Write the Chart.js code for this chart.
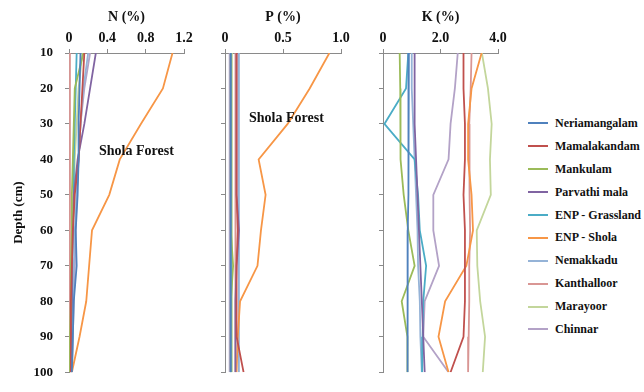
<!DOCTYPE html>
<html>
<head>
<meta charset="utf-8">
<script src="https://cdn.jsdelivr.net/npm/chart.js@4.4.1/dist/chart.umd.min.js"></script>
<style>
    body { margin: 0; background: #fff; width: 644px; height: 392px; overflow: hidden; position: relative; font-family: "Liberation Serif", serif; }
    canvas { position: absolute; top: 0; }
    .note { position: absolute; font-weight: bold; font-size: 14px; color: #111; white-space: nowrap; }
    #legend { position: absolute; left: 528px; top: 112px; width: 116px; }
    .item { height: 22.9px; display: flex; align-items: center; font-weight: bold; font-size: 12px; color: #111; white-space: nowrap; }
    .swatch { flex: none; width: 20px; height: 2px; margin-right: 7px; }
</style>
</head>
<body>
<canvas id="nChart" style="left:0px" width="200" height="392"></canvas>
<canvas id="pChart" style="left:200px" width="155" height="392"></canvas>
<canvas id="kChart" style="left:355px" width="160" height="392"></canvas>
<div class="note" style="left:99px; top:143px;">Shola Forest</div>
<div class="note" style="left:249px; top:110px;">Shola Forest</div>
<div id="legend"></div>

<script>
const depths = [10, 20, 30, 40, 50, 60, 70, 80, 90, 100];
const sites = ["Neriamangalam", "Mamalakandam", "Mankulam", "Parvathi mala", "ENP - Grassland",
    "ENP - Shola", "Nemakkadu", "Kanthalloor", "Marayoor", "Chinnar"];

// one row per site (same order as sites), values at depth 10 .. 100
const nPercent = [
    [0.12, 0.11, 0.10, 0.10, 0.09, 0.07, 0.08, 0.05, 0.04, 0.03],
    [0.16, 0.14, 0.12, 0.10, 0.06, 0.04, 0.03, 0.02, 0.02, 0.02],
    [0.15, 0.06, 0.05, 0.04, 0.03, 0.03, 0.02, 0.02, 0.01, 0.01],
    [0.28, 0.22, 0.16, 0.09, 0.05, 0.04, 0.03, 0.03, 0.02, 0.02],
    [0.08, 0.07, 0.06, 0.05, 0.05, 0.04, 0.03, 0.03, 0.02, 0.02],
    [1.08, 0.98, 0.75, 0.53, 0.42, 0.24, 0.21, 0.18, 0.11, 0.03],
    [0.20, 0.15, 0.12, 0.10, 0.08, 0.06, 0.05, 0.04, 0.04, 0.03],
    [0.01, 0.01, 0.01, 0.01, 0.01, 0.01, 0.01, 0.01, 0.01, 0.01],
    [0.14, 0.10, 0.08, 0.06, 0.05, 0.04, 0.03, 0.03, 0.03, 0.02],
    [0.22, 0.16, 0.12, 0.10, 0.08, 0.07, 0.06, 0.05, 0.04, 0.03]
];
const pPercent = [
    [0.05, 0.05, 0.05, 0.05, 0.05, 0.05, 0.05, 0.05, 0.05, 0.05],
    [0.10, 0.10, 0.10, 0.10, 0.10, 0.11, 0.10, 0.10, 0.10, 0.16],
    [0.05, 0.05, 0.05, 0.05, 0.05, 0.05, 0.07, 0.05, 0.05, 0.05],
    [0.10, 0.10, 0.10, 0.10, 0.10, 0.12, 0.10, 0.09, 0.09, 0.09],
    [0.05, 0.05, 0.05, 0.05, 0.05, 0.05, 0.05, 0.05, 0.05, 0.05],
    [0.90, 0.73, 0.54, 0.29, 0.35, 0.31, 0.28, 0.13, 0.11, 0.10],
    [0.12, 0.12, 0.12, 0.12, 0.12, 0.12, 0.12, 0.12, 0.12, 0.12],
    [0.09, 0.09, 0.09, 0.09, 0.09, 0.09, 0.09, 0.09, 0.09, 0.09],
    [0.06, 0.06, 0.06, 0.06, 0.06, 0.06, 0.06, 0.06, 0.06, 0.06],
    [0.04, 0.04, 0.04, 0.04, 0.04, 0.04, 0.04, 0.04, 0.04, 0.04]
];
const kPercent = [
    [0.90, 0.90, 0.88, 0.88, 0.88, 0.86, 0.86, 0.86, 0.85, 0.85],
    [2.80, 2.80, 2.85, 2.85, 2.80, 2.85, 2.85, 2.85, 2.80, 2.35],
    [0.58, 0.60, 0.60, 0.62, 0.72, 0.88, 1.10, 0.65, 0.85, 0.85],
    [1.10, 1.10, 1.10, 1.15, 1.20, 1.25, 1.30, 1.35, 1.40, 1.45],
    [0.88, 0.80, 0.05, 1.10, 1.22, 1.28, 1.50, 1.40, 1.38, 1.36],
    [3.43, 3.08, 2.96, 2.96, 3.08, 3.13, 2.90, 2.16, 1.93, 2.28],
    [1.00, 1.00, 1.05, 1.10, 1.15, 1.20, 1.22, 1.28, 1.30, 1.35],
    [3.08, 3.05, 3.00, 3.00, 3.02, 3.03, 3.00, 3.00, 2.98, 2.96],
    [3.44, 3.65, 3.78, 3.72, 3.75, 3.26, 3.28, 3.38, 3.55, 3.47],
    [2.60, 2.50, 2.35, 2.28, 1.75, 1.75, 1.95, 1.45, 1.40, 2.28]
];

const nTicks = ["0", "0.4", "0.8", "1.2"];
const pTicks = ["0", "0.5", "1.0"];
const kTicks = ["0", "2.0", "4.0"];

const siteColors = ["#4F81BD", "#C0504D", "#9BBB59", "#8064A2", "#4BACC6",
    "#F79646", "#95B3D7", "#D99694", "#C3D69B", "#B3A2C7"];

Chart.defaults.font.family = "'Liberation Serif', serif";
Chart.defaults.color = "#111";

const axisGray = "#8a8a8a";

function buildPanel(id, title, values, tickLabels, xMax, yWidth, rightPad, showDepth) {
    const ctx = document.getElementById(id).getContext("2d");
    const datasets = sites.map((name, i) => ({
        label: name,
        data: depths.map((d, j) => ({ x: values[i][j], y: d })),
        borderColor: siteColors[i],
        borderWidth: 1.8,
        pointRadius: 0,
        fill: false,
        tension: 0
    }));

    return new Chart(ctx, {
        type: "line",
        data: { datasets },
        options: {
            responsive: false,
            animation: false,
            layout: { padding: { left: 0, top: 0, right: rightPad, bottom: 9 } },
            plugins: { legend: { display: false }, tooltip: { enabled: false } },
            scales: {
                x: {
                    type: "linear",
                    position: "top",
                    min: 0,
                    max: xMax,
                    ticks: {
                        stepSize: xMax / (tickLabels.length - 1),
                        callback: (v, i) => tickLabels[i],
                        font: { size: 14, weight: "bold" },
                        color: "#111",
                        padding: 2,
                        maxRotation: 0
                    },
                    grid: { drawOnChartArea: false, drawTicks: true, tickLength: 4, color: axisGray },
                    border: { display: true, color: axisGray },
                    title: {
                        display: true,
                        text: title,
                        font: { size: 14, weight: "bold" },
                        color: "#111",
                        padding: { top: 9, bottom: 0 }
                    },
                    afterFit: scale => { scale.height = 53; }
                },
                y: {
                    type: "linear",
                    reverse: true,
                    min: 10,
                    max: 100,
                    ticks: {
                        stepSize: 10,
                        callback: v => showDepth ? v : "",
                        font: { size: 13, weight: "bold" },
                        color: "#111",
                        padding: 12
                    },
                    grid: { drawOnChartArea: false, drawTicks: true, tickLength: 4, color: axisGray },
                    border: { display: true, color: axisGray },
                    title: {
                        display: showDepth,
                        text: "Depth (cm)",
                        font: { size: 13, weight: "bold" },
                        color: "#111",
                        padding: { top: 11, bottom: 0 }
                    },
                    afterFit: scale => { scale.width = yWidth; }
                }
            }
        }
    });
}

buildPanel("nChart", "N (%)", nPercent, nTicks, 1.2, 69, 16, true);
buildPanel("pChart", "P (%)", pPercent, pTicks, 1.0, 25, 14, false);
buildPanel("kChart", "K (%)", kPercent, kTicks, 4.0, 28, 17, false);

// legend
const legend = document.getElementById("legend");
sites.forEach((name, i) => {
    const row = document.createElement("div");
    row.className = "item";
    row.innerHTML = `<span class="swatch" style="background:${siteColors[i]}"></span>${name}`;
    legend.appendChild(row);
});
</script>
</body>
</html>
